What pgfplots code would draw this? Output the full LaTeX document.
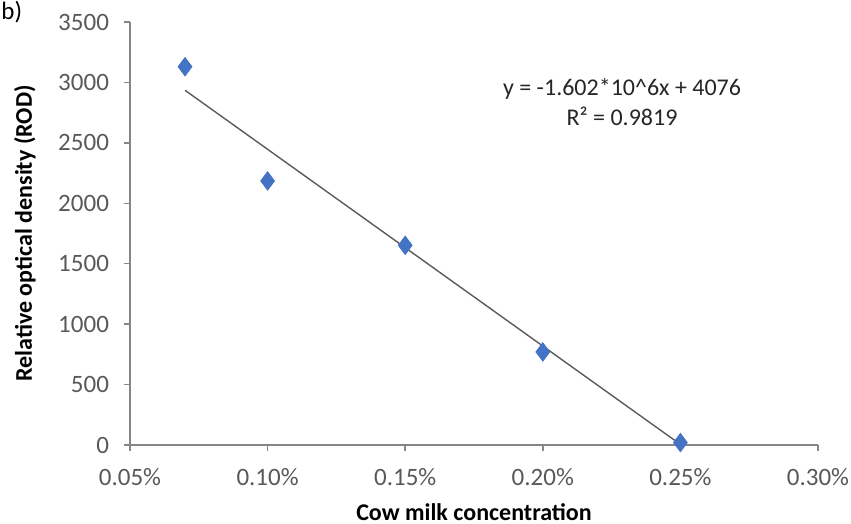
\documentclass[border=0pt]{standalone}
\usepackage{fontspec}
\setmainfont{Carlito}
\usepackage{pgfplots}
\pgfplotsset{compat=1.18}
\definecolor{markblue}{HTML}{4472C4}
\definecolor{axisgrey}{HTML}{868686}
\definecolor{ticktext}{HTML}{595959}
\definecolor{trendgrey}{HTML}{5A5A5A}
\begin{document}
\begin{tikzpicture}
\begin{axis}[
  scale only axis,
  width=344pt, height=211.5pt,
  xmin=0.05, xmax=0.30, ymin=0, ymax=3500,
  axis lines*=left,
  axis line style={axisgrey, line width=0.7pt},
  xtick={0.05,0.10,0.15,0.20,0.25,0.30},
  ytick={0,500,1000,1500,2000,2500,3000,3500},
  tick style={axisgrey, line width=0.7pt},
  tick align=outside,
  major tick length=3pt,
  /pgf/number format/assume math mode=true,
  /pgf/number format/set thousands separator={},
  ticklabel style={font=\fontsize{12.5}{15}\selectfont, text=ticktext},
  xticklabel={\pgfmathprintnumber[fixed,fixed zerofill,precision=2]{\tick}\%},
  xticklabel style={yshift=-5pt},
  yticklabel style={xshift=-4pt},
  xlabel={\textbf{Cow milk concentration}},
  ylabel={\textbf{Relative optical density (ROD)}},
  xlabel style={at={(axis description cs:0.5,-0.158)}, anchor=center, font=\fontsize{12}{14}\selectfont},
  ylabel style={at={(axis description cs:-0.153,0.5)}, anchor=center, rotate=0, font=\fontsize{12}{14}\selectfont},
  clip=false,
]
\addplot[trendgrey, line width=0.7pt] coordinates {(0.07,2935) (0.25,5)};
\addplot[only marks, mark=diamond*, mark size=4.6pt, mark options={fill=markblue, draw=markblue}] coordinates {
  (0.07,3130) (0.10,2185) (0.15,1652) (0.20,770) (0.25,20)
};
\node[align=center, font=\fontsize{12}{15}\selectfont, text=black!85] at (axis cs:0.2288,2840) {y = -1.602*10\textasciicircum6x + 4076\\R² = 0.9819};
\coordinate (sw) at (rel axis cs:0,0);
\coordinate (ne) at (rel axis cs:1,1);
\coordinate (nw) at (rel axis cs:0,1);
\end{axis}
\node[anchor=north west, inner sep=0pt, font=\fontsize{12.5}{15}\selectfont] at ([xshift=-64.5pt,yshift=10.5pt]nw) {b)};
\pgfresetboundingbox
\path[use as bounding box] ([xshift=-65pt,yshift=-39.5pt]sw) rectangle ([xshift=16.5pt,yshift=11pt]ne);
\end{tikzpicture}
\end{document}
